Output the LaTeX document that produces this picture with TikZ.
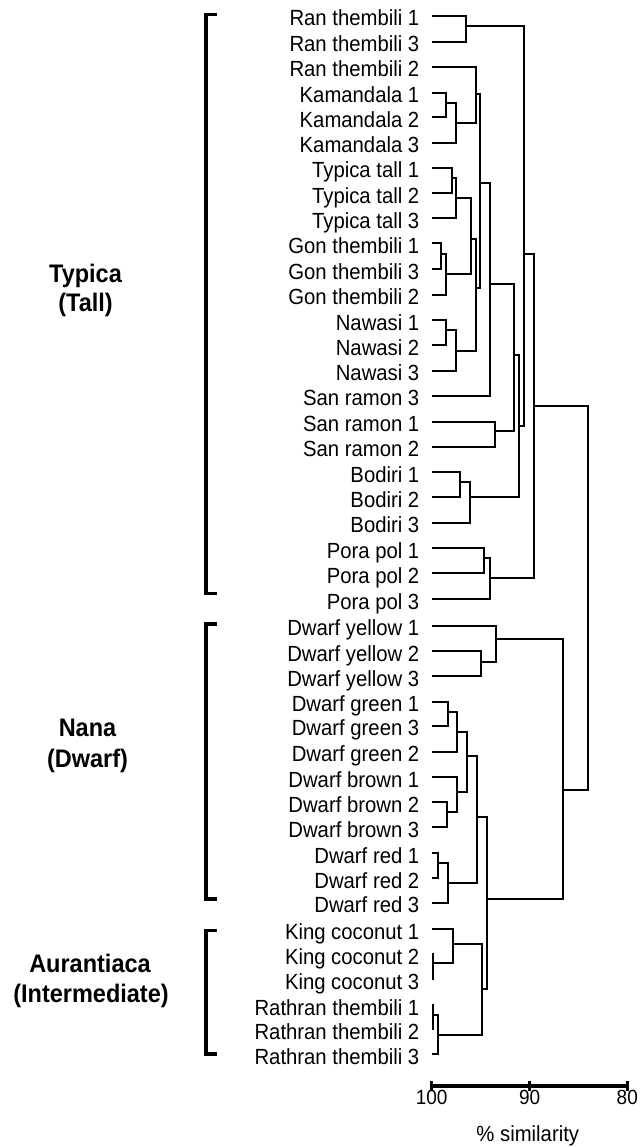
\documentclass[tikz,border=0pt]{standalone}
\usepackage{fontspec}
\usepackage{graphicx}
\setmainfont{Liberation Sans}
\newcommand{\vstretch}[1]{\scalebox{1}[1.08]{#1}}
\begin{document}
\begin{tikzpicture}[x=1pt,y=-1pt,
  lbl/.style={anchor=base east, inner sep=0pt, font=\fontsize{20.3}{24}\selectfont},
  grp/.style={anchor=base, inner sep=0pt, font=\fontsize{23.5}{28}\selectfont\bfseries},
  ticklbl/.style={anchor=base, inner sep=0pt, font=\fontsize{19}{23}\selectfont},
  tree/.style={line width=2pt},
  brk/.style={line width=3.3pt},
  axis/.style={line width=4.5pt},
  tickmark/.style={line width=2.7pt}]
\useasboundingbox (0,0) rectangle (641,1147);
% leaves
\foreach \i/\y/\t in {
 0/16/Ran thembili 1, 1/41.7/Ran thembili 3, 2/67/Ran thembili 2,
 3/93/Kamandala 1, 4/117.3/Kamandala 2, 5/143/Kamandala 3,
 6/168/Typica tall 1, 7/193.3/Typica tall 2, 8/218.3/Typica tall 3,
 9/243.3/Gon thembili 1, 10/269.3/Gon thembili 3, 11/295/Gon thembili 2,
 12/320/Nawasi 1, 13/345/Nawasi 2, 14/370.7/Nawasi 3,
 15/395.5/San ramon 3, 16/421.7/San ramon 1, 17/446.7/San ramon 2,
 18/472.3/Bodiri 1, 19/497/Bodiri 2, 20/522.7/Bodiri 3,
 21/548.3/Pora pol 1, 22/573.3/Pora pol 2, 23/599/Pora pol 3,
 24/625.7/Dwarf yellow 1, 25/651/Dwarf yellow 2, 26/676/Dwarf yellow 3,
 27/701.7/Dwarf green 1, 28/725.7/Dwarf green 3, 29/751.7/Dwarf green 2,
 30/777.3/Dwarf brown 1, 31/802.3/Dwarf brown 2, 32/827.3/Dwarf brown 3,
 33/853.3/Dwarf red 1, 34/878/Dwarf red 2, 35/902.7/Dwarf red 3,
 36/929.3/King coconut 1, 37/954/King coconut 2, 38/979/King coconut 3,
 39/1005/Rathran thembili 1, 40/1029.3/Rathran thembili 2, 41/1054/Rathran thembili 3}{
  \coordinate (l\i) at (432,\y);
  \node[lbl] (t\i) at (419.5,\y+10) {\vstretch{\t}};
}
% internal nodes
\coordinate (rA) at (466,26);
\coordinate (k12) at (446,102.7);
\coordinate (k123) at (456,122.7);
\coordinate (rk) at (476,94.3);
\coordinate (t12) at (451.7,178);
\coordinate (t123) at (456,198.3);
\coordinate (g13) at (441,254);
\coordinate (g) at (446,274.3);
\coordinate (tg) at (470.7,239.3);
\coordinate (n12) at (446,330);
\coordinate (nw) at (456,350.7);
\coordinate (tgn) at (475.7,288.3);
\coordinate (rktgn) at (480,183.3);
\coordinate (s3) at (490,284.3);
\coordinate (s12) at (495,431);
\coordinate (s) at (514.3,355);
\coordinate (b12) at (460,482.3);
\coordinate (b) at (470,496.7);
\coordinate (sb) at (518.7,426);
\coordinate (top) at (524.3,254);
\coordinate (p12) at (484.3,558.3);
\coordinate (p) at (490,578.3);
\coordinate (typ) at (534,406);
\coordinate (dy23) at (481,662.3);
\coordinate (dy) at (496,639);
\coordinate (dg13) at (447.7,711.7);
\coordinate (dg) at (457.3,731.7);
\coordinate (db23) at (447.3,812.3);
\coordinate (db) at (457.3,791.7);
\coordinate (gb) at (467.3,756);
\coordinate (dr12) at (437.7,863.3);
\coordinate (dr) at (447.7,882.7);
\coordinate (gbr) at (476.7,817.3);
\coordinate (kc23) at (432.7,963.3);
\coordinate (kc) at (452.7,944);
\coordinate (rt12) at (432.7,1015);
\coordinate (rt) at (438.3,1035);
\coordinate (kr) at (481.7,989.3);
\coordinate (da) at (486.7,899.3);
\coordinate (dw) at (563,790);
\coordinate (root) at (588.3,598);
% dendrogram
\foreach \a/\n/\b in {l0/rA/l1, l3/k12/l4, k12/k123/l5, l2/rk/k123,
  l6/t12/l7, t12/t123/l8, l9/g13/l10, g13/g/l11, t123/tg/g,
  l12/n12/l13, n12/nw/l14, tg/tgn/nw, rk/rktgn/tgn, rktgn/s3/l15,
  l16/s12/l17, s3/s/s12, l18/b12/l19, b12/b/l20, s/sb/b, rA/top/sb,
  l21/p12/l22, p12/p/l23, top/typ/p,
  l25/dy23/l26, l24/dy/dy23, l27/dg13/l28, dg13/dg/l29,
  l31/db23/l32, l30/db/db23, dg/gb/db, l33/dr12/l34, dr12/dr/l35,
  gb/gbr/dr, l37/kc23/l38, l36/kc/kc23, l39/rt12/l40, rt12/rt/l41,
  kc/kr/rt, gbr/da/kr, dy/dw/da, typ/root/dw}{
  \draw[tree] (\a) -| (\n) |- (\b);
}
% group brackets
\draw[brk] (217,14.5) -- (206,14.5) -- (206,593.5) -- (217,593.5);
\draw[brk] (217,624) -- (206,624) -- (206,899) -- (217,899);
\draw[brk] (217,930.5) -- (206,930.5) -- (206,1054) -- (217,1054);
% group labels
\node[grp] (g1a) at (85.5,282.7) {\vstretch{Typica}};
\node[grp] (g1b) at (85.5,311.7) {\vstretch{(Tall)}};
\node[grp] (g2a) at (87.5,736.7) {\vstretch{Nana}};
\node[grp] (g2b) at (87.5,767.5) {\vstretch{(Dwarf)}};
\node[grp] (g3a) at (90,972.7) {\vstretch{Aurantiaca}};
\node[grp] (g3b) at (91,1002.7) {\vstretch{(Intermediate)}};
% axis
\coordinate (ax0) at (430.5,1086);
\coordinate (ax1) at (628.5,1086);
\draw[axis] (ax0) -- (ax1);
\foreach \x/\v in {431.7/100, 529.7/90, 627.3/80}{
  \draw[tickmark] (\x,1081) -- (\x,1091);
  \node[ticklbl] (tk\v) at (\x,1104) {\vstretch{\v}};
}
\node[ticklbl, font=\fontsize{20.3}{24}\selectfont] (xlab) at (527.8,1141) {\vstretch{\% similarity}};
\end{tikzpicture}
\end{document}
